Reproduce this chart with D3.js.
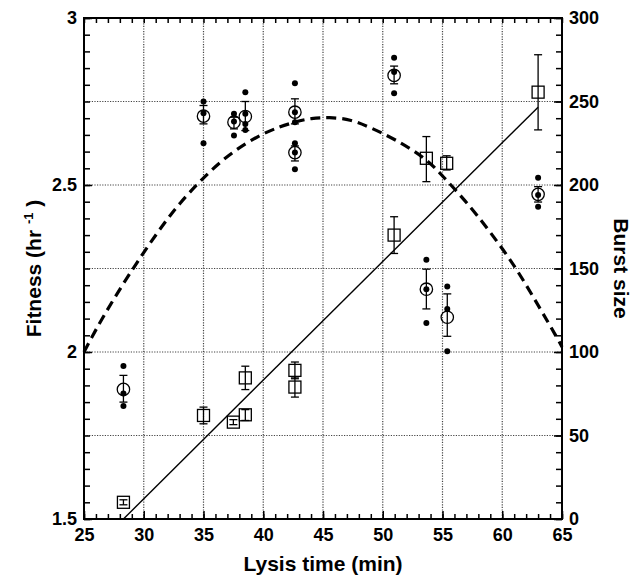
<!DOCTYPE html>
<html>
<head>
<meta charset="utf-8">
<script src="https://cdn.jsdelivr.net/npm/d3@7"></script>
<style>
body { margin: 0; background: #fff; }
text { font-family: "Liberation Sans", Arial, sans-serif; font-weight: bold; }
</style>
</head>
<body>
<div id="chart"></div>
<script>
// fitness means (open circles, left axis)
var fitTime = [28.3, 35.0, 37.55, 38.5, 42.65, 42.65, 50.95, 53.65, 55.4, 63.0];
var fitMean = [1.888, 2.706, 2.688, 2.705, 2.718, 2.597, 2.828, 2.188, 2.104, 2.472];
var fitLo   = [1.85, 2.683, 2.668, 2.663, 2.683, 2.572, 2.803, 2.129, 2.047, 2.449];
var fitHi   = [1.93, 2.738, 2.703, 2.75, 2.758, 2.617, 2.856, 2.248, 2.174, 2.495];

// single replicates (small filled dots)
var repTime = [28.3, 28.3, 28.3, 35, 35, 35, 37.55, 37.55, 37.55, 38.5, 38.5, 38.5, 38.5,
               42.65, 42.65, 42.65, 42.65, 42.65, 42.65, 50.95, 50.95, 50.95,
               53.65, 53.65, 53.65, 55.4, 55.4, 55.4, 63.0, 63.0, 63.0];
var repFit  = [1.958, 1.876, 1.838, 2.75, 2.715, 2.625, 2.713, 2.69, 2.648, 2.778, 2.713, 2.683, 2.665,
               2.805, 2.718, 2.688, 2.625, 2.597, 2.547, 2.881, 2.838, 2.775,
               2.276, 2.188, 2.087, 2.196, 2.129, 2.002, 2.522, 2.47, 2.435];

// burst size (open squares, right axis)
var burstTime = [28.3, 35.0, 37.5, 38.5, 38.5, 42.65, 42.65, 50.95, 53.65, 55.35, 63.0];
var burstMean = [10, 62, 58, 62.4, 84.5, 89, 79, 170, 216, 213, 255.6];
var burstLo   = [8.5, 57, 56.5, 59, 77.5, 84, 73, 159, 202, 209, 233];
var burstHi   = [11.5, 67, 59.5, 65.5, 91.5, 94, 85, 181, 229, 217.5, 278];

// regression line for burst size
var lineTime  = [28.3, 63.0];
var lineBurst = [0, 246.6];

// model curve for fitness (dashed)
var curveTime = [25, 26, 27.5, 29.1, 30.5, 31.8, 33, 34.7, 37, 40, 42.7, 44, 45.5, 47.3, 48.9,
                 51, 53.7, 55, 56.8, 59, 61.2, 63, 64.7, 65];
var curveFit  = [2.0, 2.068, 2.16, 2.25, 2.325, 2.39, 2.445, 2.512, 2.59, 2.658, 2.69, 2.7, 2.703, 2.697, 2.673,
                 2.638, 2.578, 2.527, 2.458, 2.36, 2.25, 2.14, 2.036, 2.015];

var xLabels = [25, 30, 35, 40, 45, 50, 55, 60, 65];
var fitLabels = [1.5, 2, 2.5, 3];
var burstLabels = [0, 50, 100, 150, 200, 250, 300];
var gridX = [30, 35, 40, 45, 50, 55, 60];
var gridY = [1.75, 2, 2.25, 2.5, 2.75];

var W = 632, H = 578;
var pLeft = 84, pRight = 562, pTop = 18, pBottom = 519;

var svg = d3.select('#chart').append('svg')
    .attr('width', W)
    .attr('height', H);

var x = d3.scaleLinear().domain([25, 65]).range([pLeft, pRight]);
var yF = d3.scaleLinear().domain([1.5, 3]).range([pBottom, pTop]);
var yB = d3.scaleLinear().domain([0, 300]).range([pBottom, pTop]);

// dotted grid
svg.append('g').selectAll('line').data(gridX).enter().append('line')
    .attr('x1', d => x(d)).attr('x2', d => x(d))
    .attr('y1', pTop).attr('y2', pBottom)
    .style('stroke', '#444').style('stroke-width', 1.2).style('stroke-dasharray', '1.2,1.4');
svg.append('g').selectAll('line').data(gridY).enter().append('line')
    .attr('x1', pLeft).attr('x2', pRight)
    .attr('y1', d => yF(d)).attr('y2', d => yF(d))
    .style('stroke', '#444').style('stroke-width', 1.2).style('stroke-dasharray', '1.2,1.4');

// minor ticks (inside)
function minor(g) { g.selectAll('.domain').remove(); g.selectAll('line').style('stroke-width', 1.5); }
svg.append('g').attr('transform', 'translate(0,' + pBottom + ')')
    .call(d3.axisBottom(x).tickValues(d3.range(25, 65.5, 1)).tickSize(-5).tickFormat('')).call(minor);
svg.append('g').attr('transform', 'translate(0,' + pTop + ')')
    .call(d3.axisTop(x).tickValues(d3.range(25, 65.5, 1)).tickSize(-5).tickFormat('')).call(minor);
svg.append('g').attr('transform', 'translate(' + pLeft + ',0)')
    .call(d3.axisLeft(yF).tickValues(d3.range(0, 31).map(i => 1.5 + i * 0.05)).tickSize(-6).tickFormat('')).call(minor);
svg.append('g').attr('transform', 'translate(' + pRight + ',0)')
    .call(d3.axisRight(yB).tickValues(d3.range(0, 301, 10)).tickSize(-6).tickFormat('')).call(minor);

// labelled axes
function major(g) {
  g.selectAll('.domain').remove();
  g.selectAll('line').style('stroke-width', 1.5);
  g.selectAll('text').style('font-size', '18px').style('fill', '#000')
    .style('font-family', '"Liberation Sans", Arial, sans-serif').style('font-weight', 'bold');
}
svg.append('g').attr('transform', 'translate(0,' + pBottom + ')')
    .call(d3.axisBottom(x).tickValues(xLabels).tickSize(-8).tickPadding(9).tickFormat(d3.format('d'))).call(major);
svg.append('g').attr('transform', 'translate(' + pLeft + ',0)')
    .call(d3.axisLeft(yF).tickValues(fitLabels).tickSize(-8).tickPadding(7).tickFormat(d => d)).call(major);
svg.append('g').attr('transform', 'translate(' + pRight + ',0)')
    .call(d3.axisRight(yB).tickValues(burstLabels).tickSize(-8).tickPadding(7).tickFormat(d3.format('d'))).call(major);

// frame
svg.append('rect')
    .attr('x', pLeft).attr('y', pTop)
    .attr('width', pRight - pLeft).attr('height', pBottom - pTop)
    .style('fill', 'none').style('stroke', '#000').style('stroke-width', 2);

// dashed model curve
var curvePts = curveTime.map((t, i) => [t, curveFit[i]]);
svg.append('path')
    .datum(curvePts)
    .attr('d', d3.line().x(d => x(d[0])).y(d => yF(d[1])).curve(d3.curveBasis))
    .style('fill', 'none').style('stroke', '#000').style('stroke-width', 3.2)
    .style('stroke-dasharray', '10,6');

// regression line
svg.append('line')
    .attr('x1', x(lineTime[0])).attr('y1', yB(lineBurst[0]))
    .attr('x2', x(lineTime[1])).attr('y2', yB(lineBurst[1]))
    .style('stroke', '#000').style('stroke-width', 1.4);

// error bars
function errorBars(times, lo, hi, y) {
  var g = svg.append('g').style('stroke', '#000').style('stroke-width', 1.3);
  times.forEach(function(t, i) {
    var cx = x(t);
    g.append('line').attr('x1', cx).attr('x2', cx).attr('y1', y(lo[i])).attr('y2', y(hi[i]));
    g.append('line').attr('x1', cx - 4).attr('x2', cx + 4).attr('y1', y(lo[i])).attr('y2', y(lo[i]));
    g.append('line').attr('x1', cx - 4).attr('x2', cx + 4).attr('y1', y(hi[i])).attr('y2', y(hi[i]));
  });
}
errorBars(fitTime, fitLo, fitHi, yF);
errorBars(burstTime, burstLo, burstHi, yB);

// replicate dots
svg.append('g').selectAll('circle').data(repTime).enter().append('circle')
    .attr('cx', d => x(d))
    .attr('cy', (d, i) => yF(repFit[i]))
    .attr('r', 3)
    .style('fill', '#000');

// fitness means
svg.append('g').selectAll('circle').data(fitTime).enter().append('circle')
    .attr('cx', d => x(d))
    .attr('cy', (d, i) => yF(fitMean[i]))
    .attr('r', 6.2)
    .style('fill', 'none').style('stroke', '#000').style('stroke-width', 1.3);

// burst size squares
svg.append('g').selectAll('rect').data(burstTime).enter().append('rect')
    .attr('x', d => x(d) - 6)
    .attr('y', (d, i) => yB(burstMean[i]) - 6)
    .attr('width', 12).attr('height', 12)
    .style('fill', 'none').style('stroke', '#000').style('stroke-width', 1.3);

// axis titles
svg.append('text')
    .attr('x', (pLeft + pRight) / 2).attr('y', 571)
    .attr('text-anchor', 'middle')
    .style('font-size', '21px')
    .text('Lysis time (min)');

var ft = svg.append('text')
    .attr('transform', 'translate(41,' + ((pTop + pBottom) / 2) + ') rotate(-90)')
    .attr('text-anchor', 'middle')
    .style('font-size', '21px');
ft.append('tspan').text('Fitness (hr ');
ft.append('tspan').text('-1').style('font-size', '13px').attr('dy', -8);
ft.append('tspan').text(' )').attr('dy', 8);

svg.append('text')
    .attr('transform', 'translate(614,' + ((pTop + pBottom) / 2) + ') rotate(90)')
    .attr('text-anchor', 'middle')
    .style('font-size', '21px')
    .text('Burst size');
</script>
</body>
</html>
